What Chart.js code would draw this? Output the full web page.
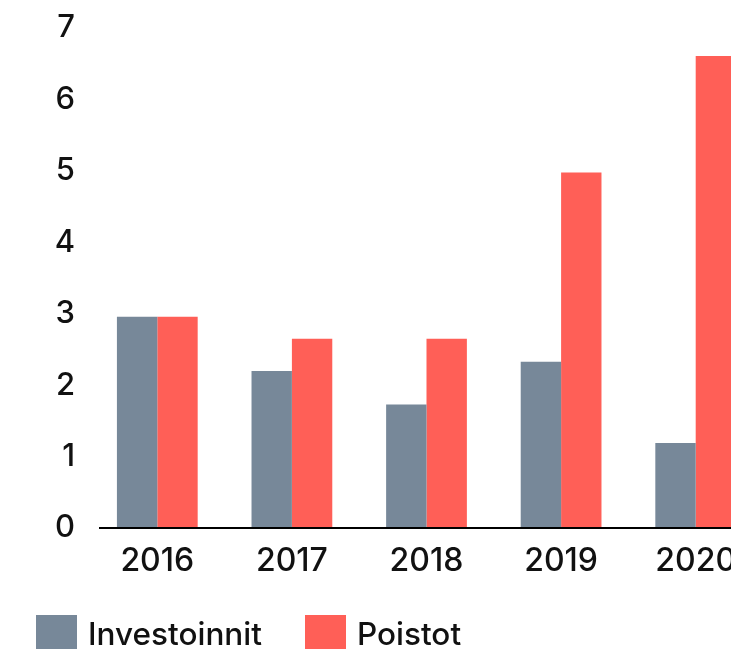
<!DOCTYPE html>
<html>
<head>
<meta charset="utf-8">
<script src="https://cdn.jsdelivr.net/npm/chart.js@4"></script>
<style>
  html, body { margin: 0; padding: 0; background: #fff; overflow: hidden; }
  #wrap { position: relative; width: 770px; height: 660px; }
  #legend { position: absolute; left: 0; top: 615px; font: 500 31.5px Inter, "DejaVu Sans", sans-serif; color: #111; }
  #legend .item { position: absolute; top: 0; height: 41px; display: flex; align-items: center; white-space: nowrap; }
  #legend .box { width: 41px; height: 41px; margin-right: 11px; }
  #legend .txt { position: relative; top: -2px; }
</style>
</head>
<body>
<div id="wrap">
  <canvas id="chart" width="770" height="660"></canvas>
  <div id="legend"></div>
</div>
<script>
// Data luettu kuvasta
const years = ['2016', '2017', '2018', '2019', '2020'];
const investoinnit = [2.96, 2.2, 1.73, 2.33, 1.19];
const poistot = [2.96, 2.65, 2.65, 4.98, 6.61];
const yTicks = [0, 1, 2, 3, 4, 5, 6, 7];
const seriesNames = ['Investoinnit', 'Poistot'];

const GREY = '#778899';
const RED = '#ff5f57';
const FONT = 'Inter, "DejaVu Sans", sans-serif';

// Baseline musta viiva, alkaa hieman akselin oikealta puolelta
const baseLine = {
    id: 'baseLine',
    afterDatasetsDraw(chart) {
        const ctx = chart.ctx;
        const y = chart.scales.y.getPixelForValue(0);
        ctx.save();
        ctx.strokeStyle = '#000';
        ctx.lineWidth = 2;
        ctx.beginPath();
        ctx.moveTo(chart.chartArea.left + 9, y);
        ctx.lineTo(chart.width, y);
        ctx.stroke();
        ctx.restore();
    }
};

const chart = new Chart(document.getElementById('chart'), {
    type: 'bar',
    data: {
        labels: years,
        datasets: [
            { label: seriesNames[0], data: investoinnit, backgroundColor: GREY },
            { label: seriesNames[1], data: poistot, backgroundColor: RED }
        ]
    },
    options: {
        responsive: false,
        animation: false,
        datasets: { bar: { barPercentage: 1, categoryPercentage: 0.6 } },
        layout: { padding: { left: 21, right: 7, top: 20, bottom: 65.5 } },
        plugins: {
            tooltip: { enabled: false },
            legend: { display: false }
        },
        scales: {
            x: {
                grid: { display: false, drawTicks: false },
                border: { display: false },
                ticks: { color: '#111', padding: 14, font: { family: FONT, size: 32, weight: 500 } }
            },
            y: {
                min: 0,
                max: 7,
                afterBuildTicks(axis) { axis.ticks = yTicks.map(v => ({ value: v })); },
                afterFit(axis) { axis.width = 69; },
                grid: { display: false, drawTicks: false },
                border: { display: false },
                ticks: { color: '#111', padding: 15, font: { family: FONT, size: 31, weight: 500, lineHeight: 0.85 } }
            }
        }
    },
    plugins: [baseLine]
});

// Selite HTML:nä
const legendPos = [36, 305];
const legendEl = document.getElementById('legend');
chart.data.datasets.forEach((ds, i) => {
    const item = document.createElement('div');
    item.className = 'item';
    item.style.left = legendPos[i] + 'px';
    const box = document.createElement('span');
    box.className = 'box';
    box.style.background = ds.backgroundColor;
    const txt = document.createElement('span');
    txt.className = 'txt';
    txt.textContent = ds.label;
    item.appendChild(box);
    item.appendChild(txt);
    legendEl.appendChild(item);
});
</script>
</body>
</html>
